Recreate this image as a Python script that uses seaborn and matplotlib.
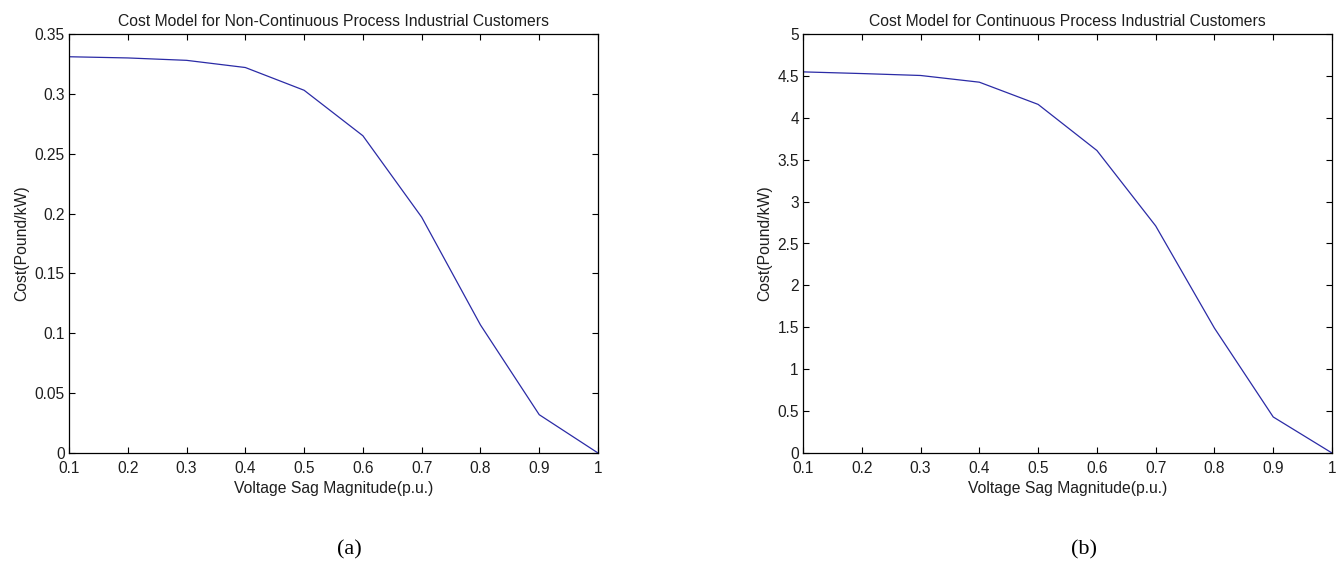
import matplotlib
matplotlib.use("Agg")
import matplotlib.pyplot as plt
from matplotlib.ticker import FuncFormatter
import seaborn as sns
import pandas as pd

# Voltage sag magnitude (p.u.) and customer interruption cost (Pound/kW)
sag_magnitude = [0.1, 0.2, 0.3, 0.4, 0.5, 0.6, 0.7, 0.8, 0.9, 1.0]
cost_non_continuous = [0.331, 0.330, 0.328, 0.322, 0.303, 0.265, 0.197, 0.107, 0.032, 0.0]
cost_continuous = [4.548, 4.528, 4.505, 4.425, 4.160, 3.610, 2.710, 1.490, 0.430, 0.0]

titles = ["Cost Model for Non-Continuous Process Industrial Customers",
          "Cost Model for Continuous Process Industrial Customers"]
x_label = "Voltage Sag Magnitude(p.u.)"
y_label = "Cost(Pound/kW)"
captions = ["(a)", "(b)"]
x_ticks = [0.1, 0.2, 0.3, 0.4, 0.5, 0.6, 0.7, 0.8, 0.9, 1.0]
y_ticks_a = [0, 0.05, 0.1, 0.15, 0.2, 0.25, 0.3, 0.35]
y_ticks_b = [0, 0.5, 1, 1.5, 2, 2.5, 3, 3.5, 4, 4.5, 5]

sns.set_theme(style="white")
plt.rcParams["font.family"] = ["Liberation Sans", "DejaVu Sans"]

fig = plt.figure(figsize=(13.41, 5.64), dpi=100)
W, H = 1341, 564
ax_a = fig.add_axes([69 / W, 1 - 453 / H, 529 / W, 419 / H])
ax_b = fig.add_axes([803 / W, 1 - 453 / H, 529 / W, 419 / H])

df = pd.DataFrame({
    "sag": sag_magnitude,
    "non_continuous": cost_non_continuous,
    "continuous": cost_continuous,
})

line_color = "#2b2ba6"
text_color = "#1e1e1e"
fmt = FuncFormatter(lambda v, p: f"{v:g}")

panels = [
    (ax_a, "non_continuous", y_ticks_a, titles[0], captions[0]),
    (ax_b, "continuous", y_ticks_b, titles[1], captions[1]),
]
for ax, col, yt, title, cap in panels:
    sns.lineplot(data=df, x="sag", y=col, ax=ax, color=line_color,
                 linewidth=0.9)
    ax.set_xlim(0.1, 1.0)
    ax.set_ylim(yt[0], yt[-1])
    ax.set_xticks(x_ticks)
    ax.set_yticks(yt)
    ax.xaxis.set_major_formatter(fmt)
    ax.yaxis.set_major_formatter(fmt)
    ax.tick_params(direction="in", length=4, width=0.8, colors="black",
                   labelcolor=text_color, labelsize=11.2,
                   top=True, right=True, bottom=True, left=True)
    ax.tick_params(axis="x", pad=6)
    ax.tick_params(axis="y", pad=3)
    for s in ax.spines.values():
        s.set_visible(True)
        s.set_color("black")
        s.set_linewidth(0.9)
    ax.set_title(title, fontsize=11.3, pad=6, color=text_color)
    ax.set_xlabel(x_label, fontsize=11.3, labelpad=3, color=text_color)
    ax.set_ylabel(y_label, fontsize=11.3, labelpad=4, color=text_color)
    ax.grid(False)
    ax.set_facecolor("white")
    bbox = ax.get_position()
    fig.text(bbox.x0 + bbox.width / 2 + 0.012, 1 - 550 / H, cap,
             ha="center", va="center", fontsize=16,
             family=["Liberation Serif", "DejaVu Serif"], color="black")

fig.savefig("out.png", dpi=100, facecolor="white")
